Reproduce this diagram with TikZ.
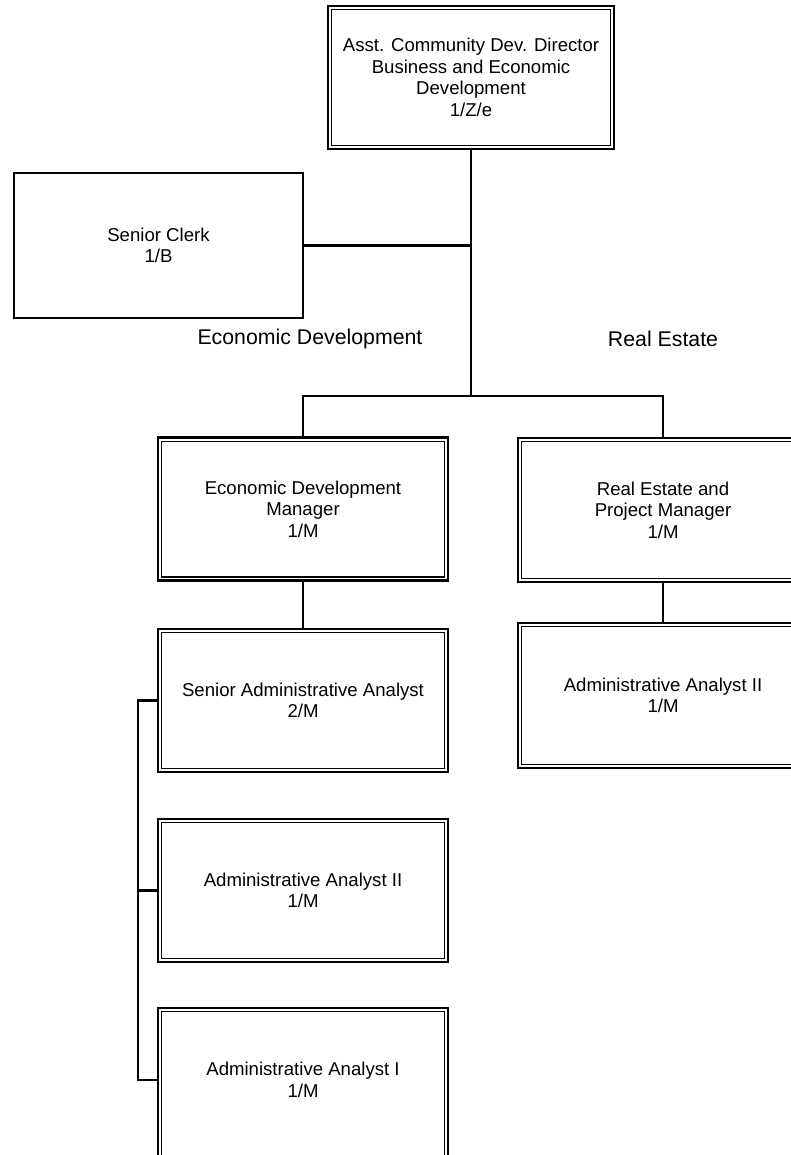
\documentclass[tikz,border=0pt]{standalone}
\usepackage{fontspec}
\setmainfont{Liberation Sans}
\begin{document}
\begin{tikzpicture}[x=1pt,y=-1pt,
  boxtext/.style={font=\fontsize{18.6}{21.6}\selectfont, align=center, inner sep=0pt},
  dbox/.style={boxtext, draw, line width=2.6pt, minimum width=290pt, minimum height=143pt},
  sbox/.style={boxtext, draw, line width=2.6pt},
  innerbox/.style={line width=1.4pt},
  conn/.style={line width=2.6pt},
  grouplabel/.style={font=\fontsize{21.3}{24}\selectfont, inner sep=0pt}]
\useasboundingbox (0,0) rectangle (791,1155);
\clip (0,0) rectangle (791,1155);
\fill[white] (0,0) rectangle (791,1155);

% nodes
\node[dbox, minimum width=286pt] (top) at (471,77.5) {Asst. Community Dev. Director\\Business and Economic\\Development\\1/Z/e};
\node[sbox, minimum width=289pt, minimum height=145pt] (clerk) at (158.5,245.5) {Senior Clerk\\1/B};
\node[grouplabel] (edlab) at (310,339) {Economic Development};
\node[grouplabel] (relab) at (663,339) {Real Estate};
\node[dbox] (econ) at (303,509) {Economic Development\\Manager\\1/M};
\node[dbox, minimum height=144pt] (re) at (663,510) {Real Estate and\\Project Manager\\1/M};
\node[dbox, minimum height=145pt] (reaa) at (663,695.5) {Administrative Analyst II\\1/M};
\node[dbox] (saa) at (303,700.5) {Senior Administrative Analyst\\2/M};
\node[dbox] (aa2) at (303,890.5) {Administrative Analyst II\\1/M};
\node[dbox, minimum height=160pt, label={[boxtext, yshift=8pt]center:{Administrative Analyst I\\1/M}}] (aa1) at (303,1088) {};

% inner borders of double boxes
\foreach \n in {top,econ,re,reaa,saa,aa2,aa1}
  \draw[innerbox] ([shift={(5,5)}]\n.north west) rectangle ([shift={(-5,-5)}]\n.south east);

% connectors
\coordinate (bar) at (471,396);
\coordinate (brk) at (138,0);
\coordinate (aa1arm) at (138,1080);
\draw[conn] (top.south) -- (bar);
\draw[conn] (clerk.east) -- (clerk.east -| top.south);
\draw[conn] (econ.north) |- (bar) -| (re.north);
\draw[conn] (econ.south) -- (saa.north);
\draw[conn] (re.south) -- (reaa.north);
\draw[conn] (saa.west) -- (saa.west -| brk) -- (aa1arm) -- (aa1arm -| aa1.west);
\draw[conn] (aa2.west) -- (aa2.west -| brk);
\end{tikzpicture}
\end{document}
